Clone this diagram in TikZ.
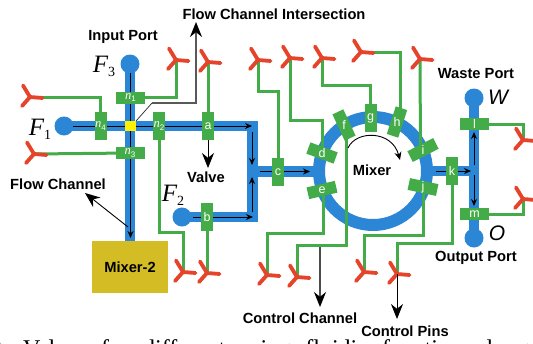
\documentclass[tikz,border=0pt]{standalone}
\usepackage{fontspec}
\setmainfont{Liberation Sans}
\newfontfamily\serifit{Liberation Serif}
\usetikzlibrary{arrows.meta}
\definecolor{chan}{HTML}{2B86D6}
\definecolor{ctrl}{HTML}{43AB47}
\definecolor{pinred}{HTML}{E5432A}
\definecolor{mixbox}{HTML}{D4BC24}
\tikzset{
  x=1pt,y=-1pt,
  flow/.style={chan,line width=10.8pt},
  port/.style={circle,fill=chan,minimum size=19pt,inner sep=0pt},
  ctl/.style={ctrl,line width=3pt},
  valve/.style={fill=ctrl,text=white,minimum width=29pt,minimum height=12pt,inner sep=0pt,font=\fontsize{12.5}{12.5}\selectfont},
  vvalve/.style={valve,minimum width=12pt,minimum height=28.5pt},
  inner/.style={black,line width=0.9pt,-{Stealth[length=7pt,width=6pt]}},
  bighead/.style={-{Stealth[length=15pt,width=12pt,color=black]}},
  callout/.style={black,line width=1pt,bighead},
  lab/.style={font=\bfseries\fontsize{14.7}{15}\selectfont,inner sep=0pt},
  portlab/.style={font=\serifit\itshape\fontsize{25}{25}\selectfont,inner sep=0pt},
  portsans/.style={font=\itshape\fontsize{21}{21}\selectfont,inner sep=0pt},
}
\newcommand{\pinat}[1]{%
  \draw[pinred,line width=3.8pt,line cap=round] (#1) -- ++(12.5,1)
    (#1) -- ++(-7,-11.5) (#1) -- ++(-8,9);}
\newcommand{\nlab}[2]{{\serifit\itshape #1}\raisebox{-0.35ex}{\fontsize{8}{8}\selectfont #2}}
\newcommand{\flab}[2]{#1\raisebox{-0.35ex}{\fontsize{14}{14}\selectfont\upshape #2}}
\begin{document}
\begin{tikzpicture}
\useasboundingbox (0,0) rectangle (533,343);
\fill[white] (0,0) rectangle (533,343);

% pin centres
\coordinate (p1) at (176,60);
\coordinate (pa) at (208,62);
\coordinate (pn4) at (30,97);
\coordinate (pn3) at (34,154);
\coordinate (pn2) at (183,272);
\coordinate (pb) at (207,273);
\coordinate (pc) at (258,60);
\coordinate (pd) at (290,58);
\coordinate (pg) at (322,58);
\coordinate (ph) at (361,52);
\coordinate (pi) at (420,59);
\coordinate (pl) at (523,140);
\coordinate (pm) at (523,199);
\coordinate (pe) at (267,275);
\coordinate (pf) at (297,277);
\coordinate (pj) at (364,272);
\coordinate (pk) at (397,274);

% ports
\node[port] (F3) at (130,64) {};
\node[port] (F1) at (64,126) {};
\node[port] (F2) at (182,217) {};
\node[port] (W) at (474,98) {};
\node[port] (O) at (474,238) {};

% mixer-2 box
\node[fill=mixbox,minimum width=76pt,minimum height=52pt,inner sep=0pt,font=\bfseries\fontsize{14.7}{15}\selectfont] (mix2) at (130,267) {Mixer-2};

% flow channels
\coordinate (tr) at (252.5,126);
\coordinate (br) at (252.5,217);
\draw[flow] (F3.center) -- (130,241);
\draw[flow,line join=miter] (F1.center) -- (tr) -- (br) -- (F2.center);
\draw[flow] (248,171.5) -- (320,171.5);
\draw[flow] (426,171) -- (474,171);
\draw[flow] (W.center) -- (O.center);
\coordinate (mc) at (373,171);
\draw[chan,line width=12pt] (mc) circle[radius=54];

% control lines
\draw[ctl] (130,97) -- (176,97) -- (p1);
\draw[ctl] (208,126) -- (pa);
\draw[ctl] (pn4) -- (100.5,97) -- (100.5,126);
\draw[ctl] (pn3) -- (130,153);
\draw[ctl] (159,126) -- (159,232) -- (183,232) -- (pn2);
\draw[ctl] (207,217) -- (pb);
\draw[ctl] (pc) -- (258,91) -- (278,91) -- (278,172);
\draw[ctl] (pd) -- (290,120) -- (322,120) -- (322,153);
\draw[ctl] (pg) -- (322,85) -- (370.5,85) -- (370.5,118);
\draw[ctl] (ph) -- (400,52) -- (400,122);
\draw[ctl] (pi) -- (420.5,150);
\draw[ctl] (474.5,124) -- (523,124) -- (pl);
\draw[ctl] (474.5,214) -- (523,214) -- (pm);
\draw[ctl] (pe) -- (267,233) -- (323,233) -- (323,190);
\draw[ctl] (pf) -- (297,245) -- (346,245) -- (346,125);
\draw[ctl] (pj) -- (364,235) -- (423,235) -- (423,187);
\draw[ctl] (pk) -- (397,243) -- (452,243) -- (452,171);

% pins
\foreach \p in {p1,pa,pn4,pn3,pn2,pb,pc,pd,pg,ph,pi,pl,pm,pe,pf,pj,pk}{\pinat{\p}}

% inner arrows
\draw[inner] (73,126) -- (252,126);
\draw[inner] (130.5,73) -- (130.5,238);
\draw[inner] (252,132) -- (252,165);
\draw[inner] (193,217) -- (253,217);
\draw[inner] (252,212) -- (252,177);
\draw[inner] (260,171.5) -- (310,171.5);
\draw[inner] (436,171) -- (471,171);
\draw[inner] (474,165) -- (474,132);
\draw[inner] (474,175) -- (474,206);

% valves
\node[valve] (n1) at (130.5,97.5) {\nlab{n}{1}};
\node[vvalve] (n4) at (100.5,126) {\nlab{n}{4}};
\node[vvalve] (n2) at (159,126) {\nlab{n}{2}};
\node[vvalve] (a) at (208,126) {a};
\node[valve] (n3) at (130,153) {\nlab{n}{3}};
\node[fill=yellow,minimum width=11pt,minimum height=10pt,inner sep=0pt] (cross) at (130.5,126) {};
\node[vvalve] (b) at (207,217) {b};
\node[vvalve] (c) at (278,172) {c};
\node[valve,rotate=-20] (d) at (322,153) {\rotatebox{20}{d}};
\node[valve,rotate=13] (e) at (322,190) {\rotatebox{-13}{e}};
\node[valve,rotate=-65] (f) at (344,125) {\rotatebox{65}{f}};
\node[vvalve] (g) at (370.5,118) {g};
\node[valve,rotate=72] (h) at (397,122) {\rotatebox{-72}{h}};
\node[valve,rotate=27] (i) at (423,150) {\rotatebox{-27}{i}};
\node[valve,rotate=-12] (j) at (423,187) {\rotatebox{12}{j}};
\node[vvalve] (k) at (452,171) {k};
\node[valve] (l) at (474.5,124) {l};
\node[valve] (m) at (474.5,214) {m};

% callouts
\coordinate (fci) at (196,22);
\coordinate (fcb) at (152,103);
\draw[black!85,line width=0.7pt] (cross.north east) -- (fcb);
\draw[black!65,line width=1.2pt,bighead] (fcb) -- (196,103) -- (fci);
\draw[callout] (a.south) -- (208,168);
\draw[black,line width=0.9pt,bighead] (128,227) -- (85,193);
\draw[black!70,line width=1.2pt,bighead] (320,247) -- (320,307);
\draw[callout] (pk) -- (397,319);
\draw[black,line width=0.9pt,-{Stealth[length=8pt,width=7pt]}] (348,148) .. controls (356,130) and (392,130) .. (400,160);

% labels
\node[lab] (tfci) at (274,14) {Flow Channel Intersection};
\node[lab] (tip) at (123,37) {Input Port};
\node[lab] (tv) at (206,177) {Valve};
\node[lab] (tfc) at (58,184) {Flow Channel};
\node[lab] (tmx) at (372,170) {Mixer};
\node[lab] (twp) at (476,74) {Waste Port};
\node[lab] (top) at (476,258) {Output Port};
\node[lab] (tcc) at (300,318) {Control Channel};
\node[lab] (tcp) at (405,331) {Control Pins};
\node[portlab] (lF3) at (104,66) {\flab{F}{3}};
\node[portlab] (lF1) at (40,129) {\flab{F}{1}};
\node[portlab] (lF2) at (173,195) {\flab{F}{2}};
\node[portsans] (lW) at (498,97) {W};
\node[portsans] (lO) at (497,233) {O};

% cropped caption line
\begin{scope}
\clip (0,0) rectangle (533,343);
\node[anchor=base east,inner sep=0pt,font=\serifit\fontsize{24}{24}\selectfont] (capa) at (9,356) {2:};
\node[anchor=base west,inner sep=0pt,font=\serifit\fontsize{24}{24}\selectfont] (capb) at (23,356) {\spaceskip=14pt Valves for different using fluidic function along};
\end{scope}
\end{tikzpicture}
\end{document}
